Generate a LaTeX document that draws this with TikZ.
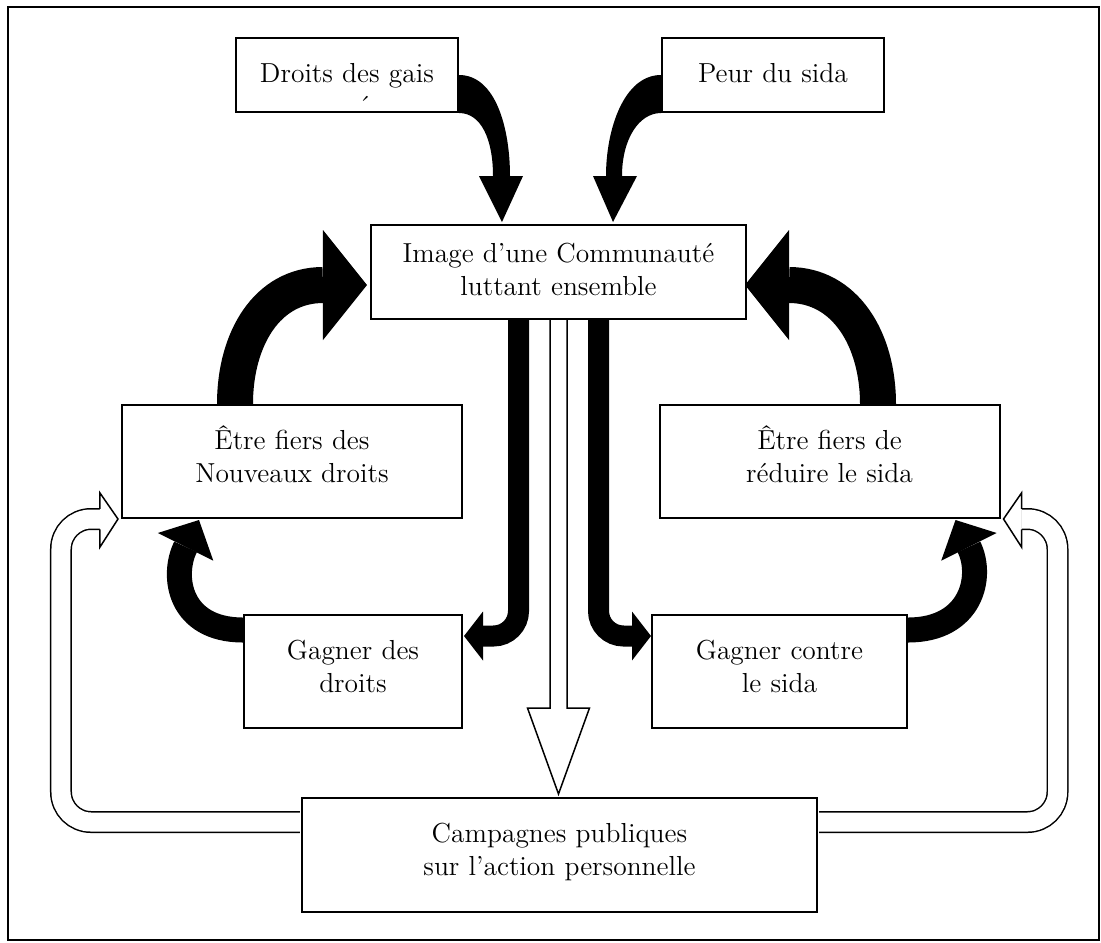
\documentclass[tikz,border=0pt]{standalone}
\usepackage{tikz}
\usetikzlibrary{arrows.meta, calc, positioning}

\begin{document}
\begin{tikzpicture}
[
x=0.4pt, y=-0.4pt,
box/.style={draw=black, line width=0.8pt, fill=white, inner sep=0pt,
            align=center, font=\fontsize{11}{13.2}\selectfont,
            text height=17.6pt, text depth=27.6pt},
lift/.style={line width=14.4pt, -{Triangle[width=44pt, length=17.6pt, line width=0pt]}},
split/.style={line width=8.4pt, rounded corners=10pt,
              -{Triangle[width=19.6pt, length=7.6pt, line width=0pt]}},
back/.style={line width=10pt, -{Triangle[width=24.8pt, length=12pt, line width=0pt]}},
hollow/.style={draw=black, line width=0.6pt, fill=white},
loopline/.style={line width=0.6pt, double distance=7.6pt, rounded corners=12pt}
]

    \useasboundingbox (0,0) rectangle (1101,942);
    \draw[line width=0.6pt] (8,7) rectangle (1099,940);

    \node[box, text width=88.8pt, text depth=12pt] (droits) at (347,75) {Droits des gais\\\hspace*{14pt}´};
    \node[box, text width=88.8pt, text depth=12pt] (peur) at (773,75) {Peur du sida};
    \node[box, text width=150pt, text height=14.8pt, text depth=22.8pt] (image) at (558.5,272)
        {Image d’une Communauté\\luttant ensemble};
    \node[box, text width=136pt] (fiersdroits) at (292,461.5) {Être fiers des\\Nouveaux droits};
    \node[box, text width=136pt] (fierssida) at (829.5,461.5) {Être fiers de\\réduire le sida};
    \node[box, text width=87.2pt] (gagnerdroits) at (353,671.5) {Gagner des\\droits};
    \node[box, text width=102pt] (gagnersida) at (779.5,671.5) {Gagner contre\\le sida};
    \node[box, text width=206pt, text depth=28pt] (campagnes) at (559.5,855)
        {Campagnes publiques\\sur l’action personnelle};

    % entrees (fleches effilees)
    \fill (droits.east) .. controls +(37,0) and +(0,-47) .. ($(image.north)+(-48.5,-48)$) -- ++(13,0)
        -- ($(image.north)+(-56.5,-2)$) -- ($(image.north)+(-79.5,-48)$) -- ++(14,0)
        .. controls +(0,-37) and +(22,0) .. (droits.south east) -- cycle;
    \fill (peur.west) .. controls +(-37,0) and +(0,-47) .. ($(image.north)+(47.5,-48)$) -- ++(-13,0)
        -- ($(image.north)+(54.5,-2)$) -- ($(image.north)+(78.5,-48)$) -- ++(-15,0)
        .. controls +(0,-37) and +(-22,0) .. (peur.south west) -- cycle;
    % fierte
    \draw[lift] ($(fiersdroits.north)+(-57,0)$) .. controls +(0,-65) and +(-100,0) .. ($(image.west)+(-3,13)$);
    \draw[lift] ($(fierssida.north)+(48.5,0)$) .. controls +(0,-65) and +(100,0) .. ($(image.east)+(-2,13)$);
    % victoires
    \draw[split] ($(image.south)+(-40,0)$) |- ($(gagnerdroits.north east)+(1,22)$);
    \draw[split] ($(image.south)+(40,0)$) |- ($(gagnersida.north west)+(0,22)$);
    \draw[back] ($(gagnerdroits.west)+(0,-41.5)$) .. controls +(-64,0) and +(-28,56) .. ($(fiersdroits.south west)+(78,1)$);
    \draw[back] ($(gagnersida.east)+(0,-41.5)$) .. controls +(64,0) and +(28,56) .. ($(fierssida.south east)+(-45,1)$);

    % campagnes
    \coordinate (ct) at ($(campagnes.north)+(-1,-3)$);
    \filldraw[hollow] ($(image.south)+(-8.5,0)$) -- ($(ct)+(-8.5,-86)$) -- ($(ct)+(-31,-86)$) -- (ct)
        -- ($(ct)+(31,-86)$) -- ($(ct)+(8.5,-86)$) -- ($(image.south)+(8.5,0)$);
    \coordinate (lt) at ($(fiersdroits.south west)+(-3,0)$);
    \coordinate (rt) at ($(fierssida.south east)+(3,0)$);
    \draw[loopline] ($(campagnes.west)+(-1,-33)$) -| ($(lt)+(-57,0)$) -- ($(lt)+(-18,0)$);
    \draw[loopline] ($(campagnes.east)+(1,-33)$) -| ($(rt)+(54,0)$) -- ($(rt)+(18,0)$);
    \filldraw[hollow] ($(lt)+(-18,-10.25)$) -- ($(lt)+(-18,-26)$) -- (lt) -- ($(lt)+(-18,28)$) -- ($(lt)+(-18,10.25)$);
    \filldraw[hollow] ($(rt)+(18,-10.25)$) -- ($(rt)+(18,-26)$) -- (rt) -- ($(rt)+(18,28)$) -- ($(rt)+(18,10.25)$);
\end{tikzpicture}
\end{document}
